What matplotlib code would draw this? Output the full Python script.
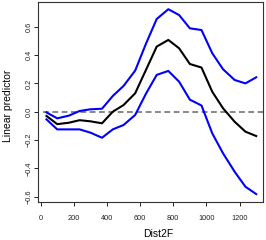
import matplotlib
matplotlib.use('Agg')
import matplotlib.pyplot as plt

# values
dist2f = [35, 100, 170, 235, 300, 370, 435, 500, 570, 635,
          700, 770, 835, 900, 970, 1035, 1100, 1170, 1235, 1300]
fit = [-0.03, -0.088, -0.078, -0.06, -0.068, -0.082, 0.0, 0.047, 0.13, 0.295,
       0.46, 0.507, 0.448, 0.337, 0.312, 0.141, 0.024, -0.071, -0.141, -0.172]
upper = [-0.005, -0.047, -0.028, 0.005, 0.017, 0.021, 0.111, 0.182, 0.29, 0.48,
         0.655, 0.724, 0.683, 0.589, 0.577, 0.413, 0.30, 0.224, 0.20, 0.243]
lower = [-0.054, -0.125, -0.125, -0.125, -0.148, -0.184, -0.125, -0.094, -0.023, 0.127,
         0.26, 0.288, 0.212, 0.085, 0.044, -0.153, -0.294, -0.424, -0.53, -0.582]

x_ticks = [0, 200, 400, 600, 800, 1000, 1200]
y_ticks = [-0.6, -0.4, -0.2, 0.0, 0.2, 0.4, 0.6]
y_tick_labels = ['\u22120.6', '\u22120.4', '\u22120.2', '0.0', '0.2', '0.4', '0.6']

plt.rcParams['font.family'] = ['Liberation Sans', 'DejaVu Sans']

fig = plt.figure(figsize=(2.66, 2.40), dpi=100)
ax = fig.add_axes([38 / 266, 1 - 202 / 240, 225 / 266, 200 / 240])

ax.axhline(0, xmin=0.02, color='#888888', lw=1.4, dashes=(3, 1.8))
ax.plot(dist2f, upper, color='#0000ff', lw=1.5)
ax.plot(dist2f, lower, color='#0000ff', lw=1.5)
ax.plot(dist2f, fit, color='black', lw=1.5)

ax.set_xlim(-16, 1341)
ax.set_ylim(-0.638, 0.775)

ax.set_xticks(x_ticks)
ax.set_xticklabels([str(t) for t in x_ticks])
ax.set_yticks(y_ticks)
ax.set_yticklabels(y_tick_labels, rotation=90, va='center')
ax.tick_params(axis='both', direction='out', length=3, width=0.7,
               labelsize=5.3, colors='#222222')
ax.tick_params(axis='x', pad=6)
ax.tick_params(axis='y', pad=1)

for s in ax.spines.values():
    s.set_linewidth(0.8)
    s.set_color('#333333')

ax.set_xlabel('Dist2F', fontsize=7.5)
ax.set_ylabel('Linear predictor', fontsize=7.5)
ax.xaxis.set_label_coords(0.533, -0.135)
ax.yaxis.set_label_coords(-0.113, 0.48)

fig.savefig('out.png', dpi=100)
